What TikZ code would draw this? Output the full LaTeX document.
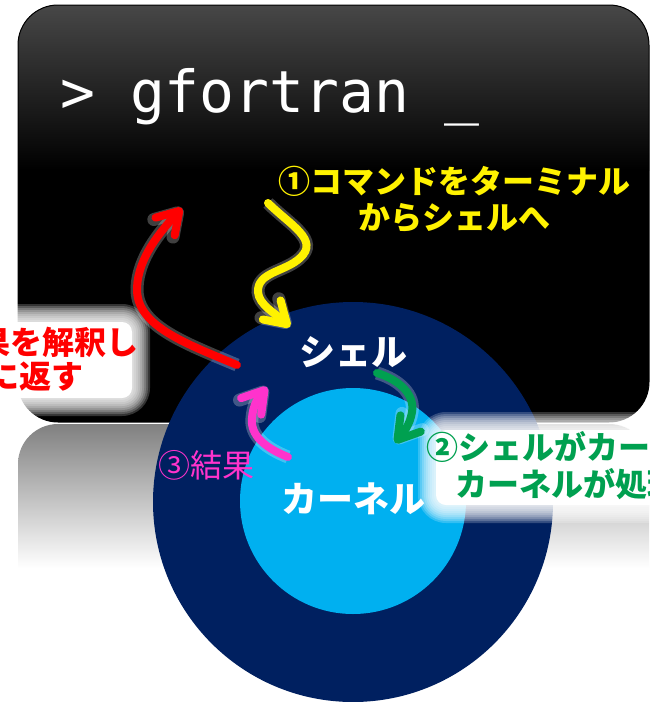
\documentclass[tikz,border=0pt]{standalone}
\usepackage{fontspec}
\newfontfamily\jp{Noto Sans CJK JP}
\newfontfamily\mono{DejaVu Sans Mono}
\usetikzlibrary{arrows.meta}
\definecolor{navy}{HTML}{002060}
\definecolor{kblue}{HTML}{00B0F0}
\definecolor{kgreen}{HTML}{00A050}
\definecolor{kpink}{HTML}{FF33CC}
\definecolor{termtop}{HTML}{474747}
\definecolor{reftop}{HTML}{808080}
\newcommand\glowbox[4]{%
  \foreach \ii [evaluate=\ii as \rr using 10+2*\ii, evaluate=\ii as \dd using 2*\ii] in {0,...,9}{%
    \fill[white, opacity=0.2, rounded corners=\rr pt] ({#1-\dd},{#2-\dd}) rectangle ({#3+\dd},{#4+\dd});}%
  \fill[white, rounded corners=10pt] (#1,#2) rectangle (#3,#4);}
\begin{document}
\begin{tikzpicture}[x=1pt,y=-1pt,
  lbl/.style={inner sep=0pt, font=\jp\bfseries\fontsize{32}{36}\selectfont},
  wlbl/.style={inner sep=0pt, text=white, font=\jp\bfseries\fontsize{36}{38}\selectfont},
  flow/.style={line width=8pt, line cap=round, line join=round,
    -{Straight Barb[length=21pt,width=26pt,round]},
    preaction={draw=white, line width=13pt, opacity=0.25}},
]
\useasboundingbox (0,0) rectangle (650,702);
\clip (0,0) rectangle (650,702);
\fill[white] (0,0) rectangle (650,702);
% terminal
\begin{scope}
  \clip[rounded corners=40pt] (18,5) rectangle (649,422);
  \fill[black] (18,5) rectangle (649,422);
  \shade[top color=termtop, bottom color=black] (18,5) rectangle (649,170);
\end{scope}
\draw[black, line width=1pt, rounded corners=40pt] (18,5) rectangle (649,422);
% reflection
\begin{scope}
  \clip[rounded corners=40pt] (18,424) rectangle (649,720);
  \shade[top color=reftop, bottom color=white] (18,424) rectangle (649,568);
\end{scope}
% circles
\node[circle, fill=navy, minimum size=400pt, inner sep=0pt] (shell) at (353,502) {};
\node[circle, fill=kblue, minimum size=226pt, inner sep=0pt] (kernel) at (353,501) {};
% glows
\glowbox{-20}{322}{132}{398}
\glowbox{436}{430}{660}{505}
% arrows
\coordinate (ya) at (268,203);
\coordinate (yb) at (290,327);
\draw[flow, yellow] (ya) .. controls (290,225) and (320,240) .. (300,258)
  .. controls (285,272) and (257,272) .. (258,292)
  .. controls (259,305) and (275,313) .. (yb);
\coordinate (ra) at (237,365);
\coordinate (rb) at (182,208);
\draw[flow, red] (ra) .. controls (182,342) and (136,325) .. (137,288)
  .. controls (138,258) and (160,232) .. (rb);
\coordinate (ga) at (377,373);
\coordinate (gb) at (395,443);
\draw[flow, kgreen] (ga) .. controls (400,380) and (415,395) .. (412,412)
  .. controls (410,425) and (403,433) .. (gb);
\coordinate (pa) at (288,457);
\coordinate (pb) at (267,387);
\draw[flow, kpink] (pa) .. controls (265,448) and (250,435) .. (252,418)
  .. controls (253,405) and (258,398) .. (pb);
% texts
\node[anchor=base west, inner sep=0pt, text=white, font=\mono\fontsize{58}{60}\selectfont] (cmd) at (60,112) {> gfortran \_};
\node[lbl, text=yellow, align=center] (step1) at (454,199) {①コマンドをターミナル\\からシェルへ};
\node[lbl, text=red, anchor=east] (r1) at (139,342) {結果を解釈し};
\node[lbl, text=red, anchor=east] (r2) at (84,376) {ターミナルに返す};
\node[lbl, text=kgreen, anchor=west] (g1) at (426,447) {②シェルがカーネル};
\node[lbl, text=kgreen, anchor=west] (g2) at (455,484) {カーネルが処理};
\node[inner sep=0pt, text=kpink, font=\jp\fontsize{32}{36}\selectfont] (res) at (206,465) {③結果};
\node[wlbl] (shellL) at (353,352) {シェル};
\node[wlbl] (kernL) at (353,499) {カーネル};
\end{tikzpicture}
\end{document}
